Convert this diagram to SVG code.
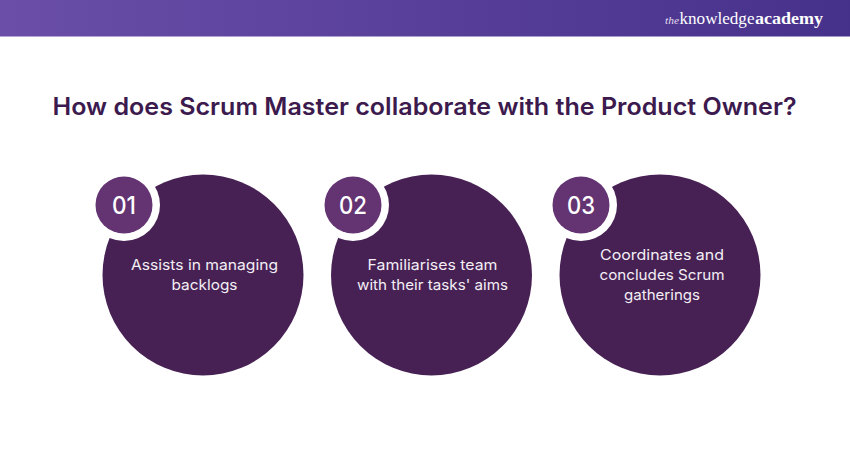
<svg xmlns="http://www.w3.org/2000/svg" width="850" height="450" viewBox="0 0 850 450">
<style>
text{font-family:"Inter","Noto Sans","Liberation Sans",sans-serif}
.big{fill:#472154}
.ring{fill:#fff}
.small{fill:#633372}
.num{fill:#fff;font-size:24px;text-anchor:middle;font-weight:500}
.lab{fill:#f3eef5;font-size:14.5px;text-anchor:middle}
.logo{font-family:"Liberation Serif",serif;font-size:17px;fill:#fff}
</style>
<defs><linearGradient id="bar" x1="0" x2="1" y1="0" y2="0"><stop offset="0" stop-color="#6a4ea8"/><stop offset="1" stop-color="#46318a"/></linearGradient></defs>
<rect width="850" height="36.500" fill="url(#bar)"/>
<g id="logo"><text x="665" y="24" font-size="11" font-style="italic" fill="#e4dcef" style="font-family:'Liberation Serif',serif" textLength="14" lengthAdjust="spacingAndGlyphs">the</text><text class="logo" x="679.500" y="24" textLength="75" lengthAdjust="spacingAndGlyphs">knowledge</text><text class="logo" x="755" y="24" font-weight="700" textLength="68" lengthAdjust="spacingAndGlyphs">academy</text></g>
<text id="title" x="424.500" y="115" font-size="24" font-weight="600" fill="#3c1a4e" text-anchor="middle" textLength="744" lengthAdjust="spacingAndGlyphs">How does Scrum Master collaborate with the Product Owner?</text>
<g id="node1"><circle class="big" cx="203" cy="275" r="100.500"/><circle class="ring" cx="124" cy="205" r="36"/><circle class="small" cx="124" cy="205" r="28.500"/><text class="num" x="124" y="214" textLength="24" lengthAdjust="spacingAndGlyphs">01</text><text class="lab" x="204.500" y="270" textLength="147" lengthAdjust="spacingAndGlyphs">Assists in managing</text><text class="lab" x="204.500" y="290" textLength="66" lengthAdjust="spacingAndGlyphs">backlogs</text></g>
<g id="node2"><circle class="big" cx="431.500" cy="275" r="100.500"/><circle class="ring" cx="353" cy="205" r="36"/><circle class="small" cx="353" cy="205" r="28.500"/><text class="num" x="353" y="214" textLength="28" lengthAdjust="spacingAndGlyphs">02</text><text class="lab" x="432.500" y="270" textLength="130" lengthAdjust="spacingAndGlyphs">Familiarises team</text><text class="lab" x="432.500" y="290" textLength="151" lengthAdjust="spacingAndGlyphs">with their tasks' aims</text></g>
<g id="node3"><circle class="big" cx="660" cy="275" r="100.500"/><circle class="ring" cx="581" cy="205" r="36"/><circle class="small" cx="581" cy="205" r="28.500"/><text class="num" x="581" y="214" textLength="28" lengthAdjust="spacingAndGlyphs">03</text><text class="lab" x="662" y="260" textLength="124" lengthAdjust="spacingAndGlyphs">Coordinates and</text><text class="lab" x="662" y="280" textLength="125" lengthAdjust="spacingAndGlyphs">concludes Scrum</text><text class="lab" x="662" y="300" textLength="76" lengthAdjust="spacingAndGlyphs">gatherings</text></g>
<g id="connectors"/>
</svg>
